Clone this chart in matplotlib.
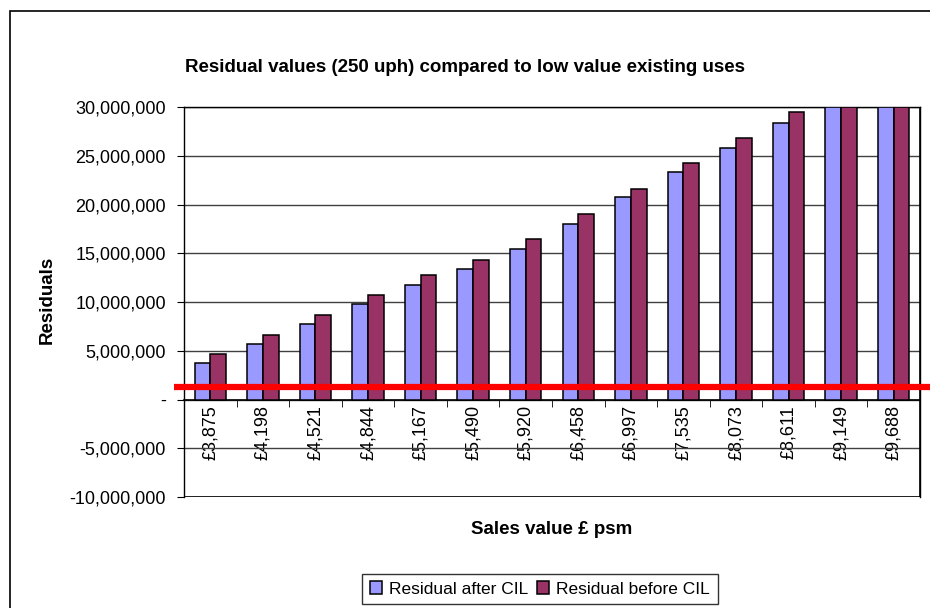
import matplotlib.pyplot as plt
import numpy as np
from matplotlib.patches import Rectangle
from matplotlib.ticker import FuncFormatter

plt.rcParams["font.family"] = ["Liberation Sans", "DejaVu Sans"]

# Sales values (£ psm) and residual land values for the 250 uph scheme
sales_labels = ["£3,875", "£4,198", "£4,521", "£4,844", "£5,167", "£5,490", "£5,920",
                "£6,458", "£6,997", "£7,535", "£8,073", "£8,611", "£9,149", "£9,688"]
residual_after_cil = [3.7e6, 5.73e6, 7.78e6, 9.79e6, 11.7e6, 13.4e6, 15.42e6,
                      18.0e6, 20.75e6, 23.3e6, 25.8e6, 28.4e6, 31.0e6, 33.6e6]
residual_before_cil = [4.67e6, 6.58e6, 8.63e6, 10.68e6, 12.72e6, 14.26e6, 16.44e6,
                       19.04e6, 21.6e6, 24.3e6, 26.85e6, 29.45e6, 32.0e6, 34.6e6]
existing_use_value = 1.26e6

BLUE = "#9999FF"
MAROON = "#993366"

fig = plt.figure(figsize=(9.3, 6.08), dpi=100)
W, H = 930, 608

# outer chart border (runs off the right and bottom edges)
fig.patches.append(Rectangle((10 / W, -0.05), 1.0, 1 - 11 / H + 0.05,
                             transform=fig.transFigure, fill=False,
                             edgecolor="black", linewidth=1.2))

ax = fig.add_axes([184 / W, (H - 497) / H, (920 - 184) / W, (497 - 107) / H])

x = np.arange(len(sales_labels))
bw = 0.3
ax.bar(x - bw / 2, residual_after_cil, bw, color=BLUE, edgecolor="black",
       linewidth=1.1, label="Residual after CIL", zorder=3)
ax.bar(x + bw / 2, residual_before_cil, bw, color=MAROON, edgecolor="black",
       linewidth=1.1, label="Residual before CIL", zorder=3)

# low value existing use benchmark
ax.plot([-0.014, 1.02], [existing_use_value] * 2, color="#FF0000", linewidth=4.5,
        transform=ax.get_yaxis_transform(), clip_on=False, zorder=5,
        solid_capstyle="butt")

ax.set_ylim(-10e6, 30e6)
ax.set_xlim(-0.5, len(sales_labels) - 0.5)
ax.set_yticks(np.arange(-10e6, 30e6 + 1, 5e6))
ax.yaxis.set_major_formatter(FuncFormatter(
    lambda v, p: "-" if v == 0 else f"{v:,.0f}"))
ax.tick_params(axis="y", labelsize=13, length=5, direction="out", pad=8)
ax.grid(axis="y", color="#404040", linewidth=1.0, zorder=1)

# category axis crosses at zero
ax.spines["bottom"].set_position(("data", 0))
ax.spines["bottom"].set_linewidth(1.2)
for s in ["top", "right", "left"]:
    ax.spines[s].set_linewidth(1.0)
ax.add_patch(Rectangle((0, 0), 1, 1, transform=ax.transAxes, fill=False,
                       edgecolor="black", linewidth=1.2, zorder=4))
ax.set_xticks(x)
ax.set_xticklabels(sales_labels, rotation=90, fontsize=13)
ax.set_xticks(np.arange(-0.5, len(sales_labels), 1.0), minor=True)
ax.tick_params(axis="x", which="major", length=0, pad=4)
ax.tick_params(axis="x", which="minor", length=5, direction="out")

fig.text(465 / W, 1 - 68 / H,
         "Residual values (250 uph) compared to low value existing uses",
         fontsize=13.5, fontweight="bold", ha="center", va="center")
fig.text(47 / W, 1 - 300 / H, "Residuals", rotation=90, fontsize=13.5,
         fontweight="bold", ha="center", va="center")
fig.text(552 / W, 1 - 530 / H, "Sales value £ psm", fontsize=13.5,
         fontweight="bold", ha="center", va="center")

leg = fig.legend(loc="center", bbox_to_anchor=(540 / W, 1 - 589 / H), ncol=2,
                 fontsize=12.5, frameon=True, fancybox=False, handlelength=0.7,
                 handleheight=0.7, handletextpad=0.4, columnspacing=0.5,
                 borderpad=0.45)
leg.get_frame().set_edgecolor("black")
leg.get_frame().set_linewidth(1.0)

fig.savefig("out.png", dpi=100)
